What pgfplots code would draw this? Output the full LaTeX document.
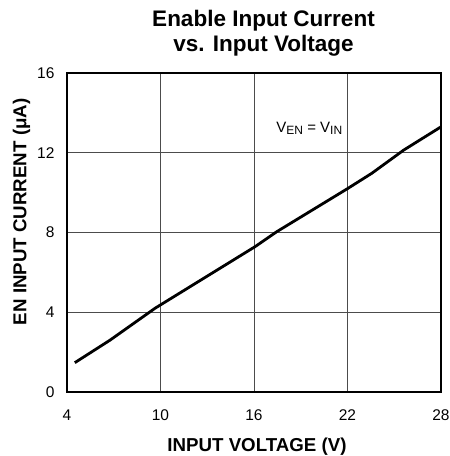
\documentclass[border=0pt]{standalone}
\usepackage{fontspec}
\setmainfont{Liberation Sans}
\usepackage{pgfplots}
\pgfplotsset{compat=1.18}
\begin{document}
\begin{tikzpicture}[x=1pt,y=1pt]
\begin{axis}[
  name=ax,
  scale only axis,
  width=374pt, height=319pt,
  xmin=4, xmax=28, ymin=0, ymax=16,
  xtick={4,10,16,22,28}, ytick={0,4,8,12,16},
  grid=major,
  major grid style={black!70, line width=0.8pt},
  axis line style={black, line width=1.3pt},
  tick style={draw=none},
  /pgf/number format/assume math mode=true,
  tick label style={font=\fontsize{15.5}{17}\selectfont},
  xticklabel style={yshift=-14pt},
  yticklabel style={xshift=-9pt},
  xlabel={\textbf{INPUT VOLTAGE (V)}},
  ylabel={\textbf{EN INPUT CURRENT (μA)}},
  label style={font=\fontsize{18.7}{21}\selectfont},
  xlabel style={yshift=-11pt, xshift=3pt},
  ylabel style={at={(ticklabel cs:0.565)}, yshift=0pt},
  clip=false,
]
\addplot[black, line width=2.8pt] coordinates {
(4.5,1.47) (6.76,2.6) (9.65,4.2) (16.07,7.29) (17.46,8.04) (22,10.2) (23.56,10.97) (25.6,12.13) (28,13.3)
};
\node[anchor=base west, fill=white, inner xsep=2pt, inner ysep=0pt, text height=23pt, text depth=3.5pt, font=\fontsize{15}{17}\selectfont] at (axis cs:17.30,13.025) {V\raisebox{-2pt}{\fontsize{12}{13}\selectfont EN} = V\raisebox{-2pt}{\fontsize{12}{13}\selectfont IN}};
\node[anchor=base, font=\fontsize{22.5}{24}\selectfont\bfseries] at ([xshift=9.5pt, yshift=46.3pt]rel axis cs:0.5,1) {Enable Input Current};
\node[anchor=base, font=\fontsize{22.5}{24}\selectfont\bfseries] at ([xshift=9.5pt, yshift=21.5pt]rel axis cs:0.5,1) {vs. Input Voltage};
\end{axis}
\pgfresetboundingbox
\path ([shift={(-67pt,-64pt)}]ax.south west) rectangle ([shift={(9pt,73pt)}]ax.north east);
\end{tikzpicture}
\end{document}
